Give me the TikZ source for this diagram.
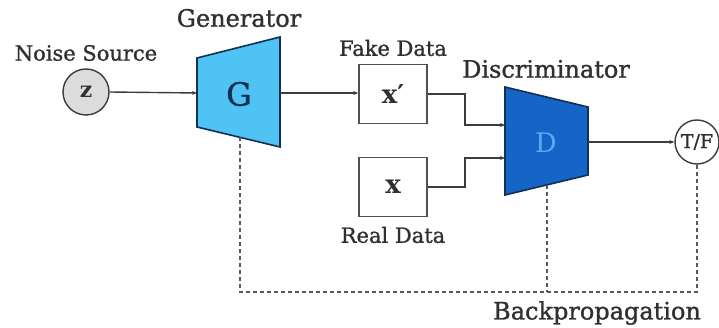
\documentclass[tikz,border=0pt]{standalone}
\usepackage{fontspec}
\setmainfont{DejaVu Serif}
\newfontfamily\semib[FakeBold=1.2]{DejaVu Serif}
\usetikzlibrary{arrows.meta}
\definecolor{txt}{HTML}{303030}
\definecolor{lineg}{HTML}{3C3C3C}
\definecolor{gfill}{HTML}{4FC3F4}
\definecolor{dfill}{HTML}{1565C8}
\definecolor{navy}{HTML}{12304F}
\definecolor{dtext}{HTML}{5AAAF2}
\definecolor{zfill}{HTML}{DCDCDC}
\tikzset{
  lbl/.style={text=txt, inner sep=0pt, font=\semib\fontsize{21}{24}\selectfont},
  biglbl/.style={text=txt, inner sep=0pt, font=\semib\fontsize{24}{28}\selectfont},
  circnode/.style={circle, draw=lineg, line width=1.4pt, inner sep=0pt, text=txt},
  databox/.style={rectangle, draw=lineg!90, line width=1.7pt, minimum width=68pt, minimum height=59pt, inner sep=0pt, text=txt, font=\fontsize{26}{30}\selectfont\bfseries},
  conn/.style={draw=lineg, line width=1.4pt, -{Stealth[length=5pt,width=4pt]}},
  bp/.style={draw=lineg!85, line width=1.6pt, dash pattern=on 4pt off 3pt},
  trap/.style={draw=navy, line width=1.6pt, line join=miter}
}
\begin{document}
\begin{tikzpicture}[x=1pt,y=-1pt]
\useasboundingbox (0,0) rectangle (719,328);
% Trapezoids
\path[trap, fill=gfill] (197,58) -- (280,37) -- (280,147) -- (197,127) -- cycle;
\path[trap, fill=dfill] (505,87) -- (588,107) -- (588,175) -- (505,195) -- cycle;
\node[text=navy, font=\semib\fontsize{32}{36}\selectfont] (G) at (239,94) {G};
\node[text=dtext, font=\fontsize{27}{30}\selectfont] (D) at (546,143) {D};
\coordinate (Gin) at (197,93);
\coordinate (Gout) at (280,93);
\coordinate (Gbot) at (240,137.4);
\coordinate (Din1) at (505,125);
\coordinate (Din2) at (505,158);
\coordinate (Dout) at (588,142);
\coordinate (Dbot) at (547,184.9);
% nodes
\node[circnode, fill=zfill, minimum size=46pt, font=\fontsize{22}{24}\selectfont\bfseries] (z) at (86,92) {z};
\node[circnode, fill=white, minimum size=44pt, font=\semib\fontsize{19}{22}\selectfont] (tf) at (697,142) {T/F};
\node[databox] (xp) at (393,94) {x\char"2032};
\node[databox] (x) at (393,187) {x};
% labels
\node[lbl] (ns) at (86,53) {Noise Source};
\node[biglbl] (gen) at (239,18) {Generator};
\node[lbl] (fd) at (393,48) {Fake Data};
\node[lbl] (rd) at (393,235) {Real Data};
\node[biglbl] (disc) at (546,69) {Discriminator};
\node[biglbl] (bpl) at (597,313) {Backpropagation};
% connectors
\draw[conn] (z.east) -- (Gin);
\draw[conn] (Gout) -- (Gout -| xp.west);
\draw[conn] (xp.east) -- (465,94) |- (Din1);
\draw[conn] (x.east) -- (465,187) |- (Din2);
\draw[conn] (Dout) -- (tf.west);
% backprop
\coordinate (bl) at (240,292);
\coordinate (br) at (697,292);
\draw[bp] (Gbot) -- (bl) -- (br) -- (tf.south);
\draw[bp] (Dbot) -- (Dbot |- bl);
\end{tikzpicture}
\end{document}
